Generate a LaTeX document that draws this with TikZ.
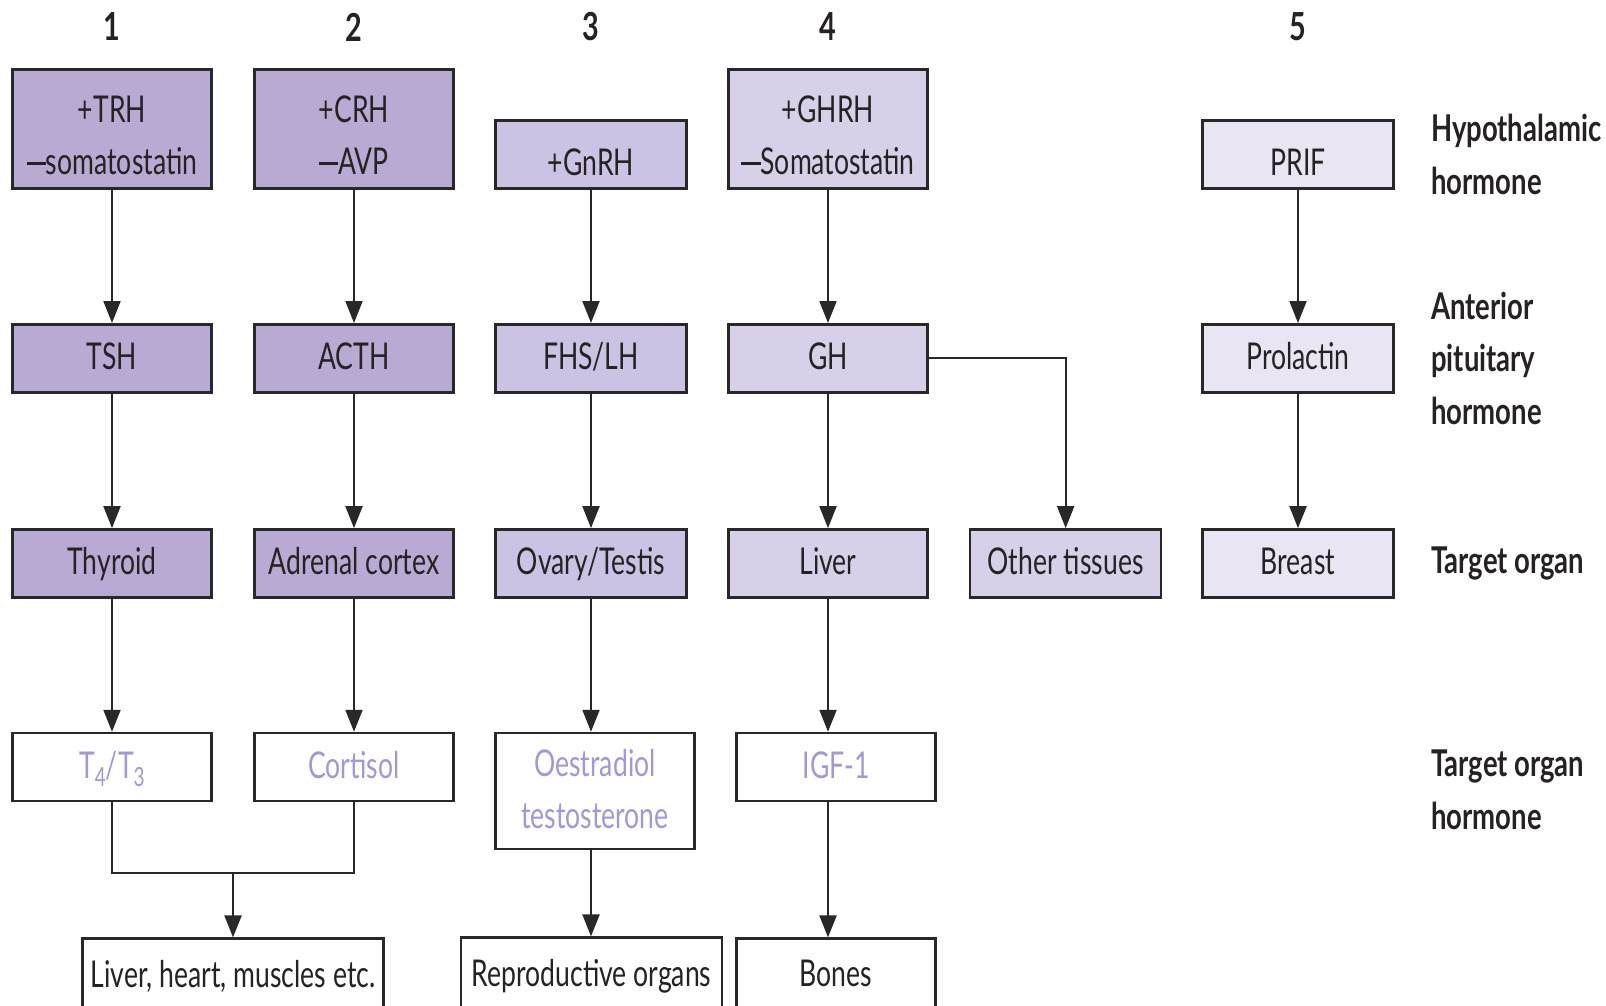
\documentclass[tikz,border=0pt]{standalone}
\usepackage{fontspec}
\setmainfont{Lato}[FakeStretch=0.72]
\newfontfamily\lblfont{Lato}[FakeStretch=0.745]
\usetikzlibrary{positioning,arrows.meta,calc}
\definecolor{pdark}{RGB}{184,170,211}
\definecolor{pmid}{RGB}{204,194,227}
\definecolor{plite}{RGB}{215,208,232}
\definecolor{ppale}{RGB}{233,229,243}
\definecolor{hormcol}{RGB}{164,152,210}
\definecolor{inkcol}{RGB}{38,34,36}
\definecolor{linecol}{RGB}{40,40,40}
\newcommand{\subnum}[1]{\raisebox{-0.42ex}{\fontsize{15}{15}\selectfont #1}}
\newcommand{\minussign}{\rule[0.26em]{0.52em}{0.075em}}
\newcommand{\topstrut}{\rule{0pt}{1.05em}}

\begin{document}
\begin{tikzpicture}[
  every node/.style={font=\fontsize{21}{29.6}\selectfont, text=inkcol},
  %% boxes of the cascade
  box/.style={
    draw=linecol, line width=1.5pt,
    align=center, inner sep=2pt, text depth=0.28em,
    minimum height=1.36cm
  },
  wide/.style={minimum width=3.98cm},
  narrow/.style={minimum width=3.82cm},
  %% top row: two-line boxes, and one-line boxes whose text sits low
  tall/.style={minimum height=2.38cm, text depth=0pt},
  low/.style={text depth=0pt, execute at begin node=\rule{0pt}{1.13em}},
  %% target organ hormones -- white box, purple text
  hb/.style={box, fill=white, text=hormcol},
  %% end tissues, open at the lower edge
  eb/.style={box, minimum height=1.5cm},
  %% level labels on the right
  lbl/.style={
    font=\lblfont\bfseries\fontsize{21}{30}\selectfont,
    align=left, inner sep=0pt, anchor=west
  },
  num/.style={font=\lblfont\bfseries\fontsize{22}{24}\selectfont},
  %% arrows and plain joins
  arr/.style={-{Triangle[length=0.44cm,width=0.34cm]}, line width=1.2pt, linecol},
  ln/.style={line width=1.2pt, linecol},
]
\clip (0,0) rectangle (32.12,-20.12);

%%── Hypothalamic hormones ────────────────────────────────────────────────────
\node[box, wide, tall, fill=pdark, anchor=south] (trh) at (2.24,-3.8)
  {\topstrut+TRH\\\minussign somatostatin};
\node[box, wide, tall, fill=pdark, anchor=south] (crh) at (7.08,-3.8)
  {\topstrut+CRH\\\minussign AVP};
\node[box, narrow, low, fill=pmid, anchor=south] (gnrh) at (11.82,-3.8)
  {+GnRH};
\node[box, wide, tall, fill=plite, anchor=south] (ghrh) at (16.56,-3.8)
  {\topstrut+GHRH\\\minussign Somatostatin};
\node[box, narrow, low, fill=ppale, anchor=south] (prif) at (25.96,-3.8)
  {PRIF};

%% column numbers
\foreach \n/\b in {1/trh, 2/crh, 3/gnrh, 4/ghrh, 5/prif}
  \node[num] (num\n) at (\b |- 0,-0.54) {\n};

%%── Anterior pituitary hormones ──────────────────────────────────────────────
\node[box, wide, fill=pdark, below=2.66cm of trh] (tsh) {TSH};
\node[box, wide, fill=pdark, below=2.66cm of crh] (acth) {ACTH};
\node[box, narrow, fill=pmid, below=2.66cm of gnrh] (fsh) {FHS/LH};
\node[box, wide, fill=plite, below=2.66cm of ghrh] (gh) {GH};
\node[box, narrow, fill=ppale, below=2.66cm of prif] (prl) {Prolactin};

%%── Target organs ────────────────────────────────────────────────────────────
\node[box, wide, fill=pdark, below=2.69cm of tsh] (thyroid) {Thyroid};
\node[box, wide, fill=pdark, below=2.69cm of acth] (adrenal) {Adrenal cortex};
\node[box, narrow, fill=pmid, below=2.69cm of fsh] (ovary) {Ovary/Testis};
\node[box, wide, fill=plite, below=2.69cm of gh] (liver) {Liver};
\node[box, narrow, fill=plite, right=0.8cm of liver] (other) {Other tissues};
\node[box, narrow, fill=ppale, below=2.69cm of prl] (breast) {Breast};

%%── Target organ hormones ────────────────────────────────────────────────────
\node[hb, wide, below=2.66cm of thyroid] (t4) {T\subnum{4}/T\subnum{3}};
\node[hb, wide, below=2.66cm of adrenal] (cort) {Cortisol};
\node[hb, wide, minimum height=2.32cm, below=2.66cm of ovary, xshift=0.08cm] (oes)
  {Oestradiol\\testosterone};
\node[hb, wide, below=2.66cm of liver, xshift=0.16cm] (igf) {IGF-1};

%%── End tissues (cut by the lower edge) ──────────────────────────────────────
\coordinate (join) at ($(t4.south)!0.5!(cort.south)+(0,-1.42)$);
\node[eb, minimum width=6.02cm, below=1.28cm of join] (tissue)
  {Liver, heart, muscles etc.};
\node[eb, minimum width=5.22cm, below=1.72cm of oes, xshift=-0.07cm] (repro)
  {Reproductive organs};
\node[eb, wide, below=2.7cm of igf] (bones) {Bones};

%%── Level labels ─────────────────────────────────────────────────────────────
\node[lbl, right=0.72cm of prif] (lhyp) {Hypothalamic\\hormone};
\node[lbl, right=0.72cm of prl] (lant) {Anterior\\pituitary\\hormone};
\node[lbl, right=0.72cm of breast] (ltgt) {Target organ};
\node[lbl, yshift=-0.46cm] (lhorm) at (ltgt.west |- cort) {Target organ\\hormone};

%%── Arrows ───────────────────────────────────────────────────────────────────
\foreach \s/\t in
  {trh/tsh, crh/acth, gnrh/fsh, ghrh/gh, prif/prl,
   tsh/thyroid, acth/adrenal, fsh/ovary, gh/liver, prl/breast,
   thyroid/t4, adrenal/cort}
  \draw[arr] (\s) -- (\t);

\draw[arr] (ovary) -- (ovary |- oes.north);
\draw[arr] (liver) -- (liver |- igf.north);
\draw[arr] (oes.south -| ovary) -- (repro.north -| ovary);
\draw[arr] (igf.south -| liver) -- (bones.north -| liver);

%% GH also acts on other tissues
\draw[arr] (gh.east) -| (other.north);

%% thyroid hormone and cortisol join
\draw[ln] (t4) |- (join) -| (cort);
\draw[arr] (join) -- (tissue);

\end{tikzpicture}
\end{document}
